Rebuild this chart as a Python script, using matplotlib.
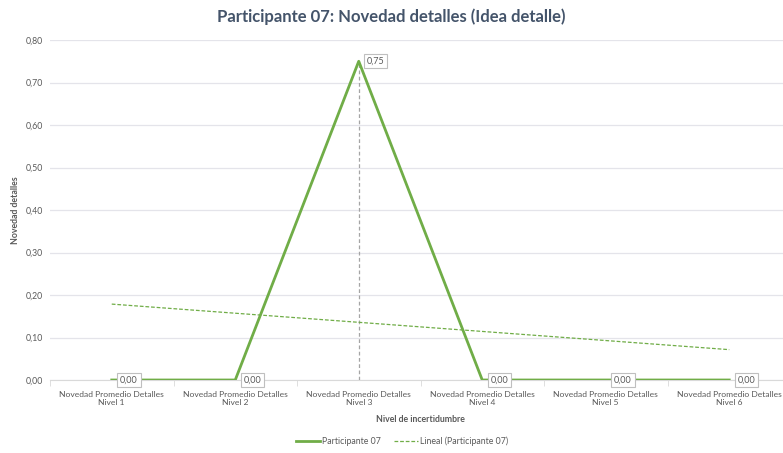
import matplotlib
matplotlib.use("Agg")
import matplotlib.pyplot as plt
import numpy as np

plt.rcParams["font.family"] = ["Lato", "DejaVu Sans"]

niveles = ["Novedad Promedio Detalles\nNivel %d" % i for i in range(1, 7)]
valores = [0.00, 0.00, 0.75, 0.00, 0.00, 0.00]
etiquetas = ["0,00", "0,00", "0,75", "0,00", "0,00", "0,00"]
yticks = [0.0, 0.1, 0.2, 0.3, 0.4, 0.5, 0.6, 0.7, 0.8]

verde = "#70AD47"
gris = "#595959"

x = np.arange(1, len(valores) + 1)
# línea de tendencia lineal (como la de Excel)
m, b = np.polyfit(x, valores, 1)
tend = m * x + b

fig = plt.figure(figsize=(7.83, 4.53), dpi=100)
ax = fig.add_axes([50 / 783, 73 / 453, 741 / 783, 340 / 453])

ax.vlines(3, 0, valores[2], color="#A5A5A5", ls=(0, (3, 2)), lw=0.9, zorder=2)
ax.plot(x, valores, color=verde, lw=2.0, label="Participante 07", zorder=3)
ax.plot(x, tend, color=verde, lw=0.9, ls=(0, (3, 1.5)),
        label="Lineal (Participante 07)", zorder=2)

for xi, yi, t in zip(x, valores, etiquetas):
    ax.annotate(t, (xi, yi), xytext=(6, 0), textcoords="offset points",
                ha="left", va="center", fontsize=6.5, color=gris,
                bbox=dict(boxstyle="square,pad=0.3", fc="white",
                          ec="#BFBFBF", lw=0.8), zorder=4)

ax.set_xlim(0.5, 6.5)
ax.set_ylim(0, 0.8)
ax.set_yticks(yticks)
ax.set_yticklabels([f"{v:.2f}".replace(".", ",") for v in yticks])
ax.set_xticks(x)
ax.set_xticklabels(niveles, linespacing=1.1)
ax.set_xticks(np.arange(0.5, 7, 1), minor=True)
ax.tick_params(axis="x", which="major", length=0, labelsize=6.1,
               labelcolor=gris, pad=8)
ax.tick_params(axis="x", which="minor", length=4, color="#D9D9D9")
ax.tick_params(axis="y", length=0, labelsize=6.3, labelcolor=gris, pad=5)
ax.grid(axis="y", color="#E4E4EA", lw=0.9)
ax.set_axisbelow(True)
for s in ["top", "right", "left"]:
    ax.spines[s].set_visible(False)
ax.spines["bottom"].set_color("#D9D9D9")

ax.set_xlabel("Nivel de incertidumbre", fontsize=6.3, fontweight="bold",
              color=gris, labelpad=7)
ax.set_ylabel("Novedad detalles", fontsize=6.3, fontweight="bold",
              color=gris, labelpad=4)

fig.text(391 / 783, 1 - 17 / 453,
         "Participante 07: Novedad detalles (Idea detalle)",
         ha="center", va="center", fontsize=12, fontweight="bold",
         color="#44546A")

fig.legend(loc="center", bbox_to_anchor=(402 / 783, 1 - 441 / 453),
           ncol=2, frameon=False, fontsize=6.3, labelcolor=gris,
           handlelength=2.7, handletextpad=0.2, columnspacing=1.6)

fig.savefig("out.png", dpi=100)
